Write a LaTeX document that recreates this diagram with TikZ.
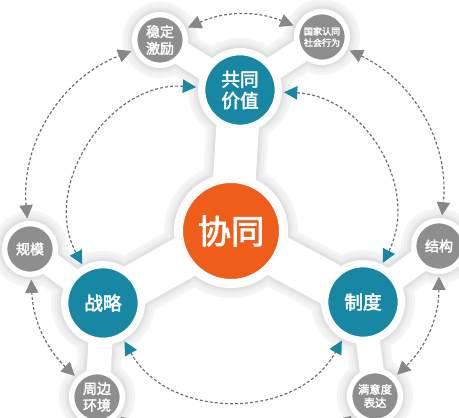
\documentclass[tikz,border=0pt]{standalone}
\usepackage{fontspec}
\newfontfamily\cjk[AutoFakeBold=2.5]{Noto Sans CJK SC}
\usetikzlibrary{arrows.meta}
\definecolor{teal1}{RGB}{24,135,163}
\definecolor{orng}{RGB}{238,94,26}
\definecolor{gry}{RGB}{142,142,142}
\definecolor{dashc}{RGB}{105,105,105}
\definecolor{arrg}{RGB}{135,135,135}
\tikzset{
  corenode/.style={circle, fill=orng, draw=white, line width=4pt, minimum size=76pt, inner sep=0pt, text=white, font=\cjk\bfseries\fontsize{25}{27}\selectfont},
  mainnode/.style={circle, fill=teal1, draw=white, line width=4pt, minimum size=56pt, inner sep=0pt, text=white, align=center, font=\cjk\bfseries\fontsize{14}{16}\selectfont},
  subnode/.style={circle, fill=gry, draw=white, line width=3pt, minimum size=37pt, inner sep=0pt, text=white, align=center, font=\cjk\bfseries\fontsize{10.5}{12.5}\selectfont},
  tinytext/.style={font=\cjk\bfseries\fontsize{6.8}{8.5}\selectfont},
  innerarc/.style={draw=dashc, line width=0.85pt, dash pattern=on 2.2pt off 1.6pt, {Triangle[length=10pt,width=10pt,color=teal1,fill=teal1]}-{Triangle[length=10pt,width=10pt,color=teal1,fill=teal1]}, shorten <=3pt, shorten >=3pt},
  outerarc/.style={draw=dashc, line width=0.85pt, dash pattern=on 2.2pt off 1.6pt, {Triangle[length=10pt,width=10pt,color=arrg,fill=arrg]}-{Triangle[length=10pt,width=10pt,color=arrg,fill=arrg]}, shorten <=3pt, shorten >=3pt}
}
\begin{document}
\begin{tikzpicture}[x=0.75pt,y=0.75pt]
\useasboundingbox (0,0) rectangle (459,417);
\clip (0,0) rectangle (459,417);
\fill[white] (0,0) rectangle (459,417);
% positions
\coordinate (pX) at (231,186);
\coordinate (pV) at (240,327);
\coordinate (pS) at (103,114);
\coordinate (pZ) at (363,115);
\coordinate (pA) at (160,377);
\coordinate (pB) at (322,380);
\coordinate (pC) at (439,171);
\coordinate (pD) at (375,21);
\coordinate (pE) at (97,20);
\coordinate (pF) at (30,168);
% soft shadow of the white base shape
\foreach \e/\c in {10/black!4, 7/black!6, 4/black!9, 2/black!12}{
  \begin{scope}[shift={(2,-4)}]
    \draw[\c, line width={(32+1.5*\e)*1pt}] (pX) -- (pV) (pX) -- (pS) (pX) -- (pZ);
    \draw[\c, line width={(18+1.5*\e)*1pt}] (pV) -- (pA) (pV) -- (pB) (pS) -- (pF) (pS) -- (pE) (pZ) -- (pC) (pZ) -- (pD);
    \fill[\c] (pX) circle[radius=57+\e];
    \foreach \p in {pV,pS,pZ}{\fill[\c] (\p) circle[radius=42+\e];}
    \foreach \p in {pA,pB,pC,pD,pE,pF}{\fill[\c] (\p) circle[radius=28+\e];}
  \end{scope}
}
% white base shape
\draw[white, line width=32pt] (pX) -- (pV) (pX) -- (pS) (pX) -- (pZ);
\draw[white, line width=18pt] (pV) -- (pA) (pV) -- (pB) (pS) -- (pF) (pS) -- (pE) (pZ) -- (pC) (pZ) -- (pD);
\fill[white] (pX) circle[radius=57];
\foreach \p in {pV,pS,pZ}{\fill[white] (\p) circle[radius=42];}
\foreach \p in {pA,pB,pC,pD,pE,pF}{\fill[white] (\p) circle[radius=28];}
% nodes
\node[corenode] (X) at (pX) {协同};
\node[mainnode] (V) at (pV) {共同\\价值};
\node[mainnode] (S) at (pS) {战略};
\node[mainnode] (Z) at (pZ) {制度};
\node[subnode] (A) at (pA) {稳定\\激励};
\node[subnode, tinytext] (B) at (pB) {国家认同\\社会行为};
\node[subnode] (C) at (pC) {结构};
\node[subnode, font=\cjk\bfseries\fontsize{8.5}{10}\selectfont] (D) at (pD) {满意度\\表达};
\node[subnode] (E) at (pE) {周边\\环境};
\node[subnode] (F) at (pF) {规模};
% inner ring
\draw[innerarc] (V) to[bend right=61, looseness=1.1] (S);
\draw[innerarc] (V) to[bend left=57, looseness=1.1] (Z);
\draw[innerarc] (S) to[bend right=61, looseness=1.1] (Z);
% outer ring
\draw[outerarc] (A) to[bend left=23] (B);
\draw[outerarc] (B) to[bend left=35] (C);
\draw[outerarc] (C) to[bend left=23] (D);
\draw[outerarc] (D) to[bend left=40] (E);
\draw[outerarc] (E) to[bend left=22] (F);
\draw[outerarc] (F) to[bend left=37] (A);
\end{tikzpicture}
\end{document}
